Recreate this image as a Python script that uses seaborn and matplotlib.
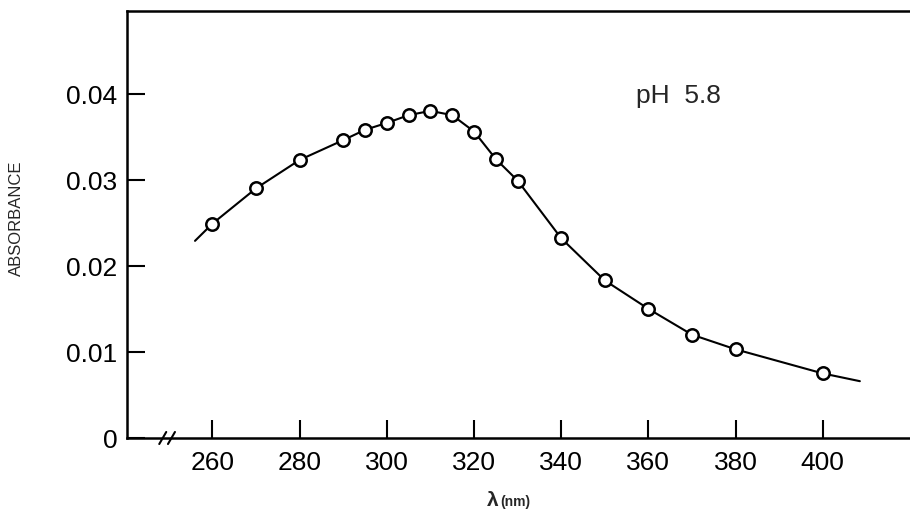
import numpy as np
import pandas as pd
import matplotlib
matplotlib.use("Agg")
import matplotlib.pyplot as plt
import seaborn as sns

# measured points (wavelength nm, absorbance)
wavelength = [260, 270, 280, 290, 295, 300, 305, 310, 315, 320, 325, 330,
              340, 350, 360, 370, 380, 400]
absorbance = [0.0249, 0.0290, 0.0323, 0.0346, 0.0358, 0.0366, 0.0375, 0.0380,
              0.0375, 0.0356, 0.0324, 0.0299, 0.0232, 0.0183, 0.0150, 0.0120,
              0.0103, 0.0075]

# where the drawn curve starts / stops beyond the measured points
curve_start = (256, 0.0229)
curve_end = (408.5, 0.0066)

x_ticks = [260, 280, 300, 320, 340, 360, 380, 400]
y_ticks = [0, 0.01, 0.02, 0.03, 0.04]
y_ticklabels = ["0", "0.01", "0.02", "0.03", "0.04"]

df = pd.DataFrame({"wavelength": wavelength, "absorbance": absorbance})
curve = pd.concat([
    pd.DataFrame({"wavelength": [curve_start[0]], "absorbance": [curve_start[1]]}),
    df,
    pd.DataFrame({"wavelength": [curve_end[0]], "absorbance": [curve_end[1]]}),
], ignore_index=True)

sns.set_style("white")
plt.rcParams["font.family"] = ["Liberation Sans", "DejaVu Sans"]

fig = plt.figure(figsize=(9.1, 5.1), dpi=100)
ax = fig.add_axes([127 / 910, 71 / 510, 1 - 127 / 910, 427 / 510])

sns.lineplot(data=curve, x="wavelength", y="absorbance", ax=ax,
             color="black", linewidth=1.5, sort=True)
sns.scatterplot(data=df, x="wavelength", y="absorbance", ax=ax,
                s=80, facecolor="white", edgecolor="black", linewidth=1.8,
                zorder=3)

ax.set_xlim(240.4, 420)
ax.set_ylim(0, 0.0496)

ax.set_xticks(x_ticks)
ax.set_yticks(y_ticks)
ax.set_yticklabels(y_ticklabels)
ax.tick_params(axis="both", direction="in", length=13, width=1.5,
               labelsize=19, colors="black", bottom=True, left=True,
               top=False, right=False)
ax.tick_params(axis="x", pad=9)
ax.tick_params(axis="y", pad=7)

for side in ["left", "bottom", "top"]:
    ax.spines[side].set_color("black")
    ax.spines[side].set_linewidth(1.8)
ax.spines["right"].set_visible(False)

ax.set_xlabel("")
ax.set_ylabel("")

# axis break mark on the x axis
for dx in (-1.0, 1.0):
    ax.plot([249.6 + dx - 0.8, 249.6 + dx + 0.8], [-0.0007, 0.0007],
            color="black", linewidth=1.5, clip_on=False, zorder=4)

ax.text(367, 0.0399, "pH  5.8", fontsize=19, ha="center", va="center")

fig.text(16 / 910, 1 - 218 / 510, "ABSORBANCE", rotation=90, fontsize=12,
         ha="center", va="center")
fig.text(493 / 910, 1 - 501 / 510, "λ", fontsize=15, fontweight="bold",
         ha="center", va="center")
fig.text(500 / 910, 1 - 502 / 510, "(nm)", fontsize=10, fontweight="bold",
         ha="left", va="center")

fig.savefig("out.png", dpi=100)
